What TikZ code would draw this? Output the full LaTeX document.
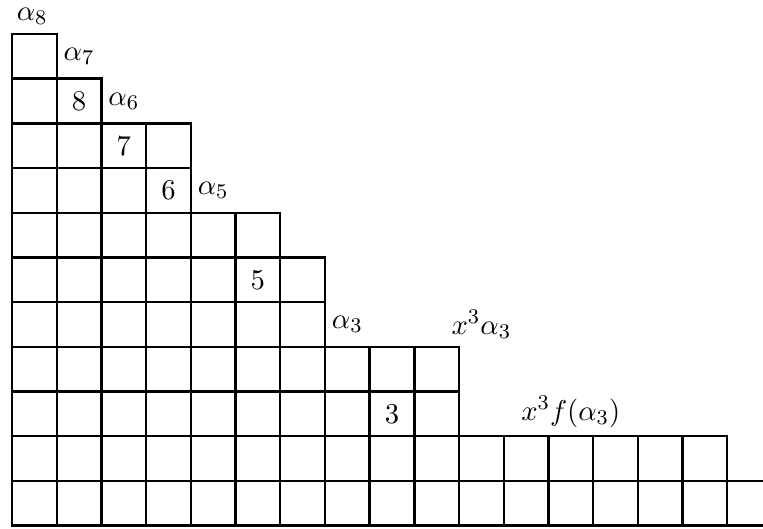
\documentclass[tikz,border=0pt,11pt]{standalone}
\usepackage{amsmath}
\usepackage{tikz}
\usetikzlibrary{positioning}

\begin{document}
\begin{tikzpicture}[
    x=0.6cm, y=0.6cm,
    cell/.style={draw, line width=0.9pt},
    num/.style={font=\normalsize},
    lab/.style={font=\normalsize},
]
    \useasboundingbox (-0.27,-0.07) rectangle (16.8,11.76);

    % rows of boxes: row index / number of boxes
    \foreach \r/\len in {0/16, 1/16, 2/10, 3/10, 4/7, 5/7, 6/6, 7/4, 8/4, 9/2, 10/1} {
        \foreach \c in {1,...,\len} {
            \draw[cell] (\c-1,\r) rectangle (\c,\r+1);
        }
    }

    % bottom row runs on past the frame
    \coordinate (b0) at (16,0);
    \coordinate (b1) at (16,1);
    \coordinate (e0) at (16.8,0);
    \coordinate (e1) at (16.8,1);
    \draw[cell] (b0) -- (e0);
    \draw[cell] (b1) -- (e1);

    % numbers in the boxes
    \node[num] (n8) at (1.5, 9.5) {8};
    \node[num] (n7) at (2.5, 8.5) {7};
    \node[num] (n6) at (3.5, 7.5) {6};
    \node[num] (n5) at (5.5, 5.5) {5};
    \node[num] (n3) at (8.5, 2.5) {3};

    % labels at the corners
    \node[lab, inner sep=1pt] (a8) at (0.45, 11.4) {$\alpha_8$};
    \node[lab] (a7) at (1.5, 10.5) {$\alpha_7$};
    \node[lab] (a6) at (2.5, 9.5) {$\alpha_6$};
    \node[lab] (a5) at (4.5, 7.5) {$\alpha_5$};
    \node[lab] (a3) at (7.5, 4.5) {$\alpha_3$};
    \node[lab] (xa3) at (10.5, 4.5) {$x^3\alpha_3$};
    \node[lab] (xf3) at (12.5, 2.55) {$x^3f(\alpha_3)$};
\end{tikzpicture}
\end{document}
